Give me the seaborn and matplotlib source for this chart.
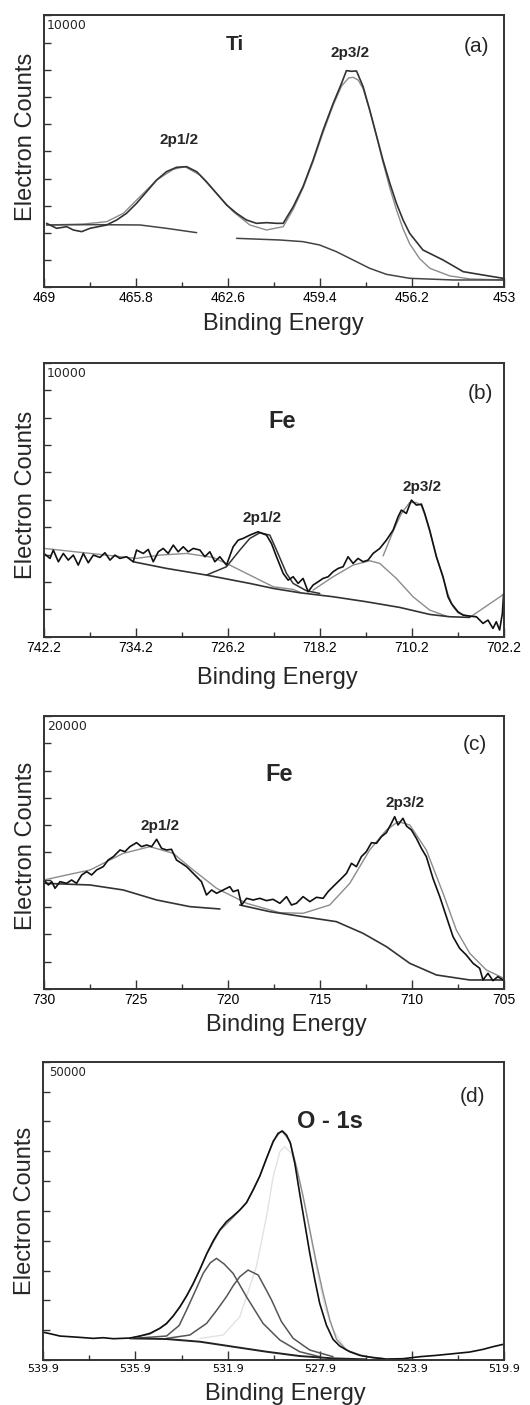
import pandas as pd
import seaborn as sns
import matplotlib
matplotlib.use("Agg")
import matplotlib.pyplot as plt
from matplotlib.ticker import FixedLocator, FixedFormatter, NullFormatter

# (a) Ti 2p
ti_raw_e = [468.91, 468.56, 468.21, 467.98, 467.69, 467.40, 467.11, 466.82, 466.47, 466.13,
            465.78, 465.43, 465.08, 464.74, 464.39, 464.04, 463.69, 463.35, 463.00, 462.65,
            462.30, 461.96, 461.61, 461.26, 460.91, 460.68, 460.33, 459.99, 459.64, 459.29,
            458.94, 458.65, 458.48, 458.31, 458.13, 457.90, 457.67, 457.44, 457.21, 456.97,
            456.74, 456.51, 456.28, 455.82, 455.12, 454.42, 453.73, 453.03]
ti_raw_v = [2353, 2169, 2230, 2108, 2047, 2169, 2230, 2292, 2476, 2721,
            3088, 3517, 3946, 4252, 4412, 4436, 4252, 3885, 3456, 3027,
            2721, 2476, 2353, 2377, 2353, 2353, 2966, 3701, 4681, 5784,
            6765, 7500, 7966, 7942, 7954, 7378, 6520, 5601, 4681, 3824,
            3088, 2476, 1985, 1373, 1005, 576, 453, 331]
ti_fit_e = [468.91, 467.63, 466.82, 466.24, 465.66, 465.08, 464.50, 464.10, 463.58, 463.00,
            462.42, 461.84, 461.26, 460.68, 460.33, 459.99, 459.64, 459.29, 458.94, 458.65,
            458.40, 458.25, 458.07, 457.90, 457.67, 457.44, 457.21, 456.97, 456.74, 456.51,
            456.28, 455.93, 455.58, 454.89, 454.19, 453.03]
ti_fit_v = [2292, 2328, 2414, 2721, 3333, 3946, 4338, 4436, 4130, 3456,
            2782, 2292, 2108, 2230, 2870, 3650, 4620, 5700, 6700, 7400,
            7700, 7720, 7620, 7300, 6500, 5580, 4600, 3650, 2850, 2150,
            1600, 1050, 700, 420, 310, 270]
ti_bg1_e = [468.91, 467.29, 465.66, 464.74, 463.69]
ti_bg1_v = [2292, 2304, 2292, 2169, 2010]
ti_bg2_e = [462.30, 460.80, 459.99, 459.41, 458.83, 458.25, 457.67, 457.09, 456.28, 454.77, 453.00]
ti_bg2_v = [1801, 1740, 1679, 1556, 1311, 1005, 699, 478, 331, 270, 270]

# (b) Fe 2p, first sample
fe1_raw_e = [742.20, 741.68, 741.39, 740.95, 740.52, 740.09, 739.65, 739.22, 738.78, 738.35,
             737.91, 737.33, 736.90, 736.46, 736.03, 735.60, 735.02, 734.44, 734.15, 733.57,
             733.13, 732.70, 732.26, 731.83, 731.40, 730.96, 730.53, 730.09, 729.66, 729.22,
             728.64, 728.21, 727.78, 727.34, 726.91, 726.33, 725.75, 725.31, 724.88, 724.30,
             723.58, 722.85, 722.42, 721.98, 721.40, 720.97, 720.53, 720.10, 719.67, 719.23,
             718.80, 718.36, 717.93, 717.49, 717.06, 716.62, 716.19, 715.76, 715.32, 714.89,
             714.45, 714.02, 713.58, 713.00, 712.42, 711.84, 711.41, 711.12, 710.69, 710.25,
             709.82, 709.38, 709.09, 708.66, 708.08, 707.50, 707.07, 706.78, 706.20, 705.76,
             705.18, 704.60, 704.02, 703.59, 703.16, 702.87, 702.58, 702.34, 702.23]
fe1_raw_v = [3041, 2859, 3163, 2737, 3041, 2798, 2980, 2615, 3041, 2701,
             2980, 2895, 3066, 2798, 2980, 2859, 2920, 2737, 3163, 3041,
             3187, 2737, 3102, 3224, 3041, 3345, 3102, 3285, 3102, 3224,
             3163, 2920, 3102, 2737, 2920, 2615, 3285, 3528, 3589, 3710,
             3832, 3710, 3406, 2920, 2311, 2068, 2190, 1946, 2129, 1642,
             1886, 2007, 2129, 2190, 2372, 2494, 2555, 2920, 2676, 2859,
             2737, 2798, 3041, 3224, 3528, 3893, 4379, 4623, 4501, 4988,
             4805, 4842, 4501, 3893, 2920, 2190, 1460, 1217, 912, 791,
             754, 730, 487, 608, 304, 547, 243, 852, 1581]
fe1_sat_e = [742.20, 734.15, 732.12, 729.80, 727.49, 726.04, 724.30, 722.27, 720.53, 719.96]
fe1_sat_v = [3224, 2859, 2980, 3041, 2895, 2615, 2251, 1825, 1727, 1630]
fe1_bg_e = [734.44, 731.54, 728.07, 724.30, 722.27, 719.96, 717.06, 714.16, 711.27, 708.66, 706.92, 705.18]
fe1_bg_v = [2737, 2494, 2251, 1946, 1764, 1606, 1460, 1277, 1071, 815, 730, 706]
fe1_p1_e = [728.07, 726.33, 725.17, 724.30, 723.43, 722.56, 721.98, 721.11, 720.53, 719.38, 718.22]
fe1_p1_v = [2251, 2555, 3163, 3589, 3795, 3710, 3163, 2311, 1946, 1679, 1581]
fe1_sh_e = [718.80, 717.06, 715.32, 713.87, 713.00, 711.56, 710.11, 708.66, 707.21]
fe1_sh_v = [1703, 2190, 2615, 2774, 2676, 2129, 1460, 973, 754]
fe1_p3_e = [712.71, 711.84, 711.12, 710.40, 709.82, 709.38, 709.09, 708.66, 708.08, 707.50,
            707.07, 706.63, 706.20, 705.47, 704.60]
fe1_p3_v = [2950, 3850, 4500, 4900, 4900, 4780, 4450, 3850, 2950, 2150,
            1550, 1100, 870, 760, 730]
fe1_end_e = [705.18, 702.20]
fe1_end_v = [706, 1557]

# (c) Fe 2p, second sample
fe2_raw_e = [730.00, 729.76, 729.58, 729.40, 729.13, 728.77, 728.50, 728.23, 727.95, 727.68,
             727.41, 727.14, 726.78, 726.51, 726.23, 725.87, 725.60, 725.33, 724.97, 724.70,
             724.42, 724.15, 723.88, 723.61, 723.34, 723.07, 722.80, 722.52, 722.25, 721.98,
             721.71, 721.44, 721.17, 720.89, 720.62, 720.26, 719.90, 719.72, 719.45, 719.26,
             718.99, 718.63, 718.27, 717.91, 717.55, 717.18, 716.82, 716.55, 716.28, 715.92,
             715.55, 715.19, 714.83, 714.56, 714.29, 713.92, 713.56, 713.29, 713.02, 712.75,
             712.48, 712.20, 711.93, 711.66, 711.39, 711.12, 710.94, 710.76, 710.49, 710.30,
             710.03, 709.76, 709.49, 709.22, 708.86, 708.49, 708.13, 707.77, 707.41, 707.05,
             706.68, 706.32, 706.14, 705.87, 705.60, 705.33, 705.05]
fe2_raw_v = [7985, 7619, 7863, 7375, 7863, 7741, 7985, 7741, 8352, 8596,
             8352, 8718, 8962, 9451, 9695, 10183, 10061, 10427, 10720, 10427,
             10549, 10427, 10965, 10305, 10183, 10232, 9451, 9206, 8962, 8596,
             8230, 7863, 6886, 7253, 7009, 7253, 7497, 7131, 7253, 6154,
             6642, 6520, 6642, 6471, 6569, 6276, 6764, 6154, 6276, 6764,
             6398, 6716, 6642, 7131, 7497, 7985, 8474, 9206, 8962, 9695,
             10061, 10720, 10671, 11160, 11453, 12137, 12625, 12015, 12503, 11941,
             11648, 11038, 10305, 9695, 8107, 6764, 5299, 3834, 2979, 2491,
             1880, 1514, 659, 1148, 611, 904, 659]
fe2_fit_e = [730.00, 728.77, 727.50, 725.69, 724.24, 722.98, 721.89, 720.62, 718.99, 717.18,
             715.92, 714.47, 713.38, 712.30, 711.39, 710.76, 710.12, 709.22, 708.31, 707.59,
             706.86, 705.96, 705.00]
fe2_fit_v = [7985, 8352, 8718, 9939, 10427, 9939, 8718, 7375, 6276, 5592,
             5543, 6154, 7741, 10183, 11648, 12259, 12015, 10183, 7009, 4322,
             2613, 1392, 781]
fe2_bg1_e = [730.00, 727.50, 725.69, 723.88, 722.07, 720.44]
fe2_bg1_v = [7741, 7619, 7253, 6520, 6032, 5861]
fe2_bg2_e = [719.36, 717.73, 715.92, 714.11, 712.66, 711.39, 710.12, 708.67, 706.86, 705.00]
fe2_bg2_v = [6154, 5665, 5299, 4933, 4078, 3101, 1880, 1026, 659, 659]

# (d) O 1s
o_raw_e = [539.87, 539.54, 539.18, 538.74, 538.31, 537.73, 537.30, 536.86, 536.14, 535.71,
           535.27, 534.84, 534.55, 534.26, 533.97, 533.68, 533.39, 533.10, 532.81, 532.52,
           532.24, 531.95, 531.66, 531.37, 531.08, 530.79, 530.50, 530.21, 529.92, 529.71,
           529.52, 529.34, 529.17, 528.98, 528.77, 528.55, 528.33, 528.11, 527.90, 527.61,
           527.32, 527.03, 526.60, 526.16, 525.58, 525.01, 524.28, 523.56, 522.84, 522.11,
           521.39, 520.81, 520.38, 519.94]
o_raw_v = [4637, 4358, 4023, 3911, 3799, 3632, 3743, 3576, 3687, 4023,
           4470, 5308, 6146, 7375, 8939, 10727, 12850, 15197, 17767, 20001,
           21789, 23186, 24136, 25142, 26371, 28494, 30840, 33801, 36595, 37992,
           38383, 37712, 36316, 32963, 27935, 22907, 17878, 13409, 9498, 5866,
           3464, 2347, 1397, 782, 391, 168, 223, 559, 782, 1062,
           1341, 1788, 2235, 2626]
o_fit_e = [536.14, 535.27, 534.55, 533.97, 533.39, 532.81, 532.24, 531.66, 531.08, 530.50,
           529.92, 529.56, 529.20, 528.91, 528.62, 528.33, 528.04, 527.75, 527.46, 527.17,
           526.74, 526.02, 525.15]
o_fit_v = [3632, 4358, 6034, 8827, 12738, 17767, 21678, 23912, 26371, 30840,
           36763, 38439, 36763, 32405, 27376, 21789, 16202, 11174, 6704, 3464,
           1676, 670, 279]
o_c1_e = [536.00, 534.55, 534.00, 533.68, 533.30, 532.96, 532.65, 532.38, 532.05, 531.66,
          531.08, 530.36, 529.63, 528.77, 527.90]
o_c1_v = [3632, 4023, 5800, 8381, 11600, 14526, 16300, 17040, 16100, 14526,
          10615, 6146, 3352, 1397, 559]
o_c2_e = [534.55, 533.54, 532.81, 532.40, 531.95, 531.65, 531.37, 531.01, 530.57, 530.20,
          529.99, 529.56, 529.05, 528.33, 527.32]
o_c2_v = [3632, 4190, 6146, 8200, 10615, 12500, 13968, 15085, 14247, 11600,
          10057, 6425, 3632, 1676, 559]
o_c3_e = [533.10, 532.09, 531.37, 530.65, 530.21, 529.92, 529.63, 529.42, 529.13, 528.84,
          528.55, 528.26, 527.97, 527.68, 527.32, 526.74, 525.87]
o_c3_v = [3632, 4190, 7263, 15644, 24024, 30729, 34919, 35757, 34639, 31287,
          26259, 20113, 13968, 8939, 5028, 1676, 559]
o_bg_e = [536.14, 534.55, 533.10, 531.66, 530.21, 528.77, 527.32, 525.87]
o_bg_v = [3632, 3520, 3073, 2235, 1397, 670, 279, 112]

# axis ticks
ti_ticks = [469, 465.8, 462.6, 459.4, 456.2, 453]
ti_labels = ["469", "465.8", "462.6", "459.4", "456.2", "453"]
fe1_ticks = [742.2, 734.2, 726.2, 718.2, 710.2, 702.2]
fe1_labels = ["742.2", "734.2", "726.2", "718.2", "710.2", "702.2"]
fe2_ticks = [730, 725, 720, 715, 710, 705]
fe2_labels = ["730", "725", "720", "715", "710", "705"]
o_ticks = [539.9, 535.9, 531.9, 527.9, 523.9, 519.9]
o_labels = ["539.9", "535.9", "531.9", "527.9", "523.9", "519.9"]

sns.set_style("ticks")
plt.rcParams["font.family"] = ["Liberation Sans", "DejaVu Sans"]
plt.rcParams["axes.edgecolor"] = "#333333"
plt.rcParams["axes.linewidth"] = 1.4

GREY = "#8c8c8c"


def curve(ax, e, v, color, lw=1.1):
    d = pd.DataFrame({"e": e, "v": v})
    sns.lineplot(data=d, x="e", y="v", ax=ax, color=color, linewidth=lw,
                 sort=False, estimator=None)


def frame(ax, ticks, labels, ymax, corner, tag, tag_xy, ylab_y, xlab_y, xlab_x,
          tick_font=("Liberation Sans", 10), corner_x=0.006, corner_font=9):
    ax.set_xlim(ticks[0], ticks[-1])
    ax.set_ylim(0, ymax)
    ax.xaxis.set_major_locator(FixedLocator(ticks))
    ax.xaxis.set_major_formatter(FixedFormatter(labels))
    minor = [(a + b) / 2 for a, b in zip(ticks[:-1], ticks[1:])]
    ax.xaxis.set_minor_locator(FixedLocator(minor))
    ax.yaxis.set_major_locator(FixedLocator([ymax * i / 10 for i in range(11)]))
    ax.yaxis.set_major_formatter(NullFormatter())
    ax.tick_params(axis="x", which="major", direction="in", length=6.5, width=1,
                   pad=3, colors="#333333", labelcolor="black")
    ax.tick_params(axis="x", which="minor", direction="in", length=3.5, width=1,
                   colors="#333333")
    ax.tick_params(axis="y", which="major", direction="in", length=5, width=1,
                   colors="#333333")
    for lab in ax.get_xticklabels():
        lab.set_fontfamily(tick_font[0])
        lab.set_fontsize(tick_font[1])
    ax.set_xlabel("Binding Energy", fontsize=17)
    ax.set_ylabel("Electron Counts", fontsize=17)
    ax.xaxis.set_label_coords(xlab_x, xlab_y)
    ax.yaxis.set_label_coords(-0.015, ylab_y)
    ax.text(corner_x, 0.985, corner, transform=ax.transAxes, ha="left", va="top",
            fontsize=corner_font, family="DejaVu Sans")
    ax.text(tag_xy[0], tag_xy[1], tag, transform=ax.transAxes, ha="center",
            va="center", fontsize=15)
    for s in ax.spines.values():
        s.set_visible(True)


def note(ax, x, y, s, size=11):
    ax.text(x, y, s, transform=ax.transAxes, ha="center", va="center",
            fontsize=size, fontweight="bold")


fig = plt.figure(figsize=(5.3, 14.05), dpi=100)

# (a)
ax = fig.add_axes([0.0830, 0.7955, 0.8679, 0.1936])
curve(ax, ti_fit_e, ti_fit_v, GREY, 1.0)
curve(ax, ti_bg1_e, ti_bg1_v, "#444444", 1.1)
curve(ax, ti_bg2_e, ti_bg2_v, "#444444", 1.1)
curve(ax, ti_raw_e, ti_raw_v, "#333333", 1.2)
frame(ax, ti_ticks, ti_labels, 10000, "10000", "(a)", (0.941, 0.887), 0.553, -0.093, 0.52)
note(ax, 0.415, 0.893, "Ti", 15)
note(ax, 0.666, 0.863, "2p3/2")
note(ax, 0.2935, 0.5415, "2p1/2")

# (b)
ax = fig.add_axes([0.0830, 0.5468, 0.8679, 0.1950])
curve(ax, fe1_sat_e, fe1_sat_v, GREY, 1.0)
curve(ax, fe1_sh_e, fe1_sh_v, GREY, 1.0)
curve(ax, fe1_p3_e, fe1_p3_v, GREY, 1.0)
curve(ax, fe1_end_e, fe1_end_v, GREY, 1.0)
curve(ax, fe1_bg_e, fe1_bg_v, "#333333", 1.2)
curve(ax, fe1_p1_e, fe1_p1_v, "#333333", 1.1)
curve(ax, fe1_raw_e, fe1_raw_v, "#111111", 1.2)
frame(ax, fe1_ticks, fe1_labels, 10000, "10000", "(b)", (0.948, 0.889), 0.517, -0.110, 0.507)
note(ax, 0.517, 0.785, "Fe", 17)
note(ax, 0.823, 0.548, "2p3/2")
note(ax, 0.474, 0.435, "2p1/2")

# (c)
ax = fig.add_axes([0.0830, 0.2961, 0.8679, 0.1943])
curve(ax, fe2_fit_e, fe2_fit_v, GREY, 1.0)
curve(ax, fe2_bg1_e, fe2_bg1_v, "#333333", 1.2)
curve(ax, fe2_bg2_e, fe2_bg2_v, "#333333", 1.2)
curve(ax, fe2_raw_e, fe2_raw_v, "#111111", 1.2)
frame(ax, fe2_ticks, fe2_labels, 20000, "20000", "(c)", (0.937, 0.897), 0.524, -0.093, 0.528)
note(ax, 0.511, 0.784, "Fe", 17)
note(ax, 0.786, 0.681, "2p3/2")
note(ax, 0.252, 0.597, "2p1/2")

# (d)
ax = fig.add_axes([0.0817, 0.0320, 0.8692, 0.2123])
curve(ax, o_c3_e, o_c3_v, "#e2e2e2", 1.0)
curve(ax, o_c1_e, o_c1_v, "#555555", 1.1)
curve(ax, o_c2_e, o_c2_v, "#555555", 1.1)
curve(ax, o_bg_e, o_bg_v, "#222222", 1.4)
curve(ax, o_fit_e, o_fit_v, GREY, 1.0)
curve(ax, o_raw_e, o_raw_v, "#111111", 1.2)
frame(ax, o_ticks, o_labels, 50000, "50000", "(d)", (0.932, 0.885), 0.50, -0.077, 0.525,
      tick_font=("DejaVu Sans", 8), corner_x=0.013, corner_font=8.5)
note(ax, 0.622, 0.80, "O - 1s", 17)

fig.savefig("out.png", dpi=100, facecolor="white")
